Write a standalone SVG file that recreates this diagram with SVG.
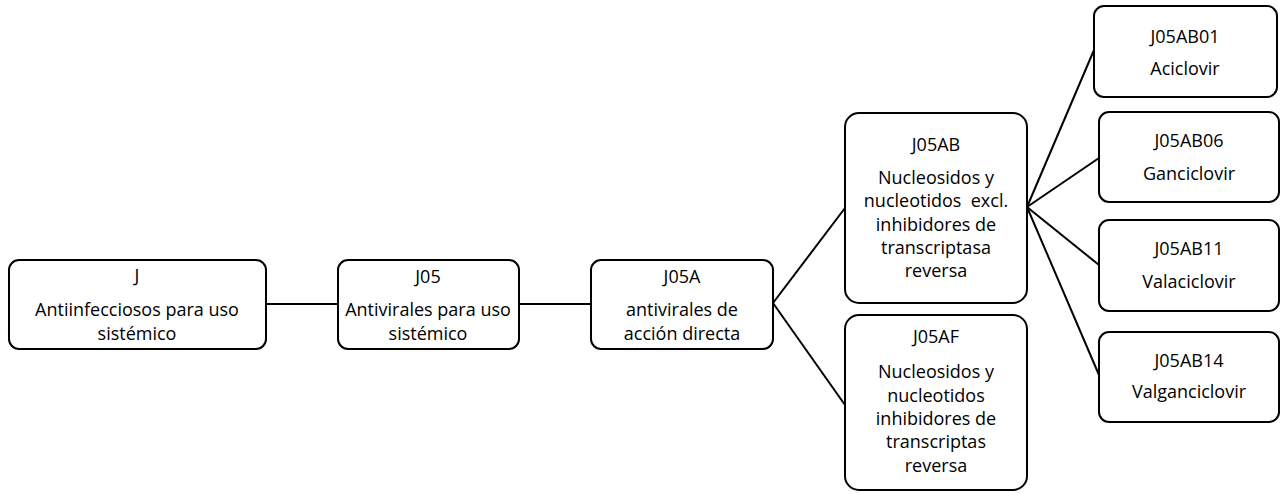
<svg xmlns="http://www.w3.org/2000/svg" width="1282" height="494" viewBox="0 0 1282 494">
<style>
.box{fill:#fff;stroke:#000;stroke-width:2}
.t{font-family:"Open Sans","Liberation Sans",sans-serif;font-size:18px;fill:#000;text-anchor:middle}
.c{stroke:#000;stroke-width:2;fill:none}
</style>
<rect width="1282" height="494" fill="#fff"/>
<g id="connectors">
<line class="c" x1="266" y1="304" x2="338" y2="304"/>
<line class="c" x1="519" y1="304" x2="591" y2="304"/>
<line class="c" x1="773" y1="303" x2="845" y2="208"/>
<line class="c" x1="773" y1="303" x2="845" y2="405"/>
<line class="c" x1="1027" y1="207" x2="1094" y2="50"/>
<line class="c" x1="1027" y1="207" x2="1099" y2="158"/>
<line class="c" x1="1027" y1="207" x2="1099" y2="265"/>
<line class="c" x1="1027" y1="207" x2="1099" y2="375"/>
</g>
<g id="n-J">
<rect class="box" x="9" y="260" width="257" height="89" rx="10"/>
<text class="t" x="137" y="282">J</text>
<text class="t" x="137" y="316">Antiinfecciosos para uso</text>
<text class="t" x="137" y="340">sistémico</text>
</g>
<g id="n-J05">
<rect class="box" x="338" y="260" width="181" height="89" rx="10"/>
<text class="t" x="428" y="283">J05</text>
<text class="t" x="428" y="316">Antivirales para uso</text>
<text class="t" x="428" y="340">sistémico</text>
</g>
<g id="n-J05A">
<rect class="box" x="591" y="260" width="182" height="89" rx="10"/>
<text class="t" x="682" y="283">J05A</text>
<text class="t" x="682" y="316">antivirales de</text>
<text class="t" x="682" y="340">acción directa</text>
</g>
<g id="n-J05AB">
<rect class="box" x="845" y="113" width="182" height="190" rx="14"/>
<text class="t" x="936" y="151">J05AB</text>
<text class="t" x="936" y="184">Nucleosidos y</text>
<text class="t" x="936" y="207" xml:space="preserve">nucleotidos  excl.</text>
<text class="t" x="936" y="231">inhibidores de</text>
<text class="t" x="936" y="254">transcriptasa</text>
<text class="t" x="936" y="277">reversa</text>
</g>
<g id="n-J05AF">
<rect class="box" x="845" y="315" width="182" height="175" rx="14"/>
<text class="t" x="936" y="343">J05AF</text>
<text class="t" x="936" y="378">Nucleosidos y</text>
<text class="t" x="936" y="402">nucleotidos</text>
<text class="t" x="936" y="425">inhibidores de</text>
<text class="t" x="936" y="448">transcriptas</text>
<text class="t" x="936" y="472">reversa</text>
</g>
<g id="n-J05AB01">
<rect class="box" x="1094" y="6" width="183" height="91" rx="10"/>
<text class="t" x="1185" y="43">J05AB01</text>
<text class="t" x="1185" y="75">Aciclovir</text>
</g>
<g id="n-J05AB06">
<rect class="box" x="1099" y="112" width="180" height="90" rx="10"/>
<text class="t" x="1189" y="147">J05AB06</text>
<text class="t" x="1189" y="180">Ganciclovir</text>
</g>
<g id="n-J05AB11">
<rect class="box" x="1099" y="220" width="180" height="91" rx="10"/>
<text class="t" x="1189" y="255">J05AB11</text>
<text class="t" x="1189" y="288">Valaciclovir</text>
</g>
<g id="n-J05AB14">
<rect class="box" x="1099" y="332" width="180" height="90" rx="10"/>
<text class="t" x="1189" y="367">J05AB14</text>
<text class="t" x="1189" y="398">Valganciclovir</text>
</g>
</svg>
